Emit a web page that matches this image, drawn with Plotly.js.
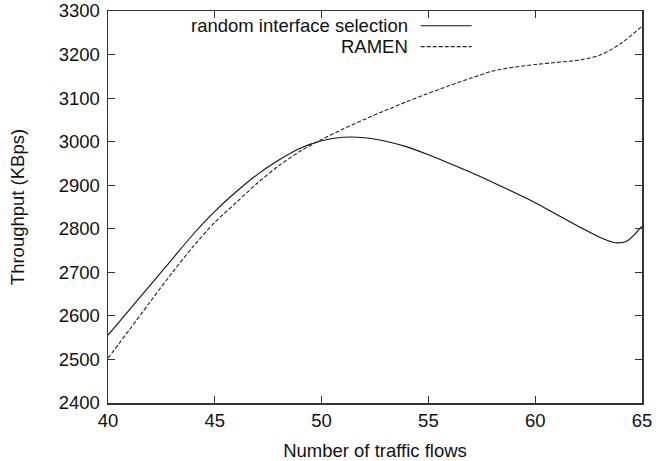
<!DOCTYPE html>
<html>
<head>
<meta charset="utf-8">
<script src="https://cdn.plot.ly/plotly-3.0.1.min.js"></script>
<style>html,body{margin:0;padding:0;background:#fff;}#chart{width:664px;height:461px;}</style>
</head>
<body>
<div id="chart"></div>
<script>
const seriesNames = ["random interface selection", "RAMEN"];
const randomX = [40,41,42,43,44,45,46,47,48,49,50,51,52,53,54,55,56,57,58,59,60,61,62,63,63.75,64.3,65];
const randomY = [2556,2614,2672,2730,2788,2840,2885,2925,2958,2985,3002,3010,3009,3001,2988,2970,2950,2929,2907,2884,2860,2833,2806,2781,2768,2772,2806];
const ramenX = [40,41,42,43,44,45,46,47,48,49,50,51,52,53,54,55,56,57,58,59,60,61,62,63,64,65];
const ramenY = [2503,2568,2634,2699,2760,2815,2860,2905,2945,2978,3005,3029,3051,3072,3092,3111,3129,3146,3162,3171,3177,3182,3187,3198,3225,3265];
const xTicks = [40,45,50,55,60,65];
const yTicks = [2400,2500,2600,2700,2800,2900,3000,3100,3200,3300];
const xTitle = "Number of traffic flows";
const yTitle = "Throughput (KBps)";

const font = {family: "Liberation Sans, Arial, sans-serif", size: 18.5, color: "#111"};
const traces = [
  {x: randomX, y: randomY, mode: "lines", name: seriesNames[0], line: {color: "#111", width: 1.1, shape: "spline", smoothing: 0.8}},
  {x: ramenX, y: ramenY, mode: "lines", name: seriesNames[1], line: {color: "#222", width: 1.1, dash: "4px,2px", shape: "spline", smoothing: 0.8}}
];
const legendY = [0.9625, 0.909];
const annotations = seriesNames.map((n, i) => ({
  xref: "paper", yref: "paper", x: 0.5637, y: legendY[i], xanchor: "right", yanchor: "middle",
  text: n, showarrow: false, font: font, borderpad: 0
}));
const shapes = seriesNames.map((n, i) => ({
  type: "line", xref: "paper", yref: "paper", x0: 0.5856, x1: 0.681, y0: legendY[i], y1: legendY[i],
  line: {color: i === 0 ? "#111" : "#222", width: 1.1, dash: i === 0 ? "solid" : "4px,2px"}
}));
const axisCommon = {
  showline: true, linecolor: "#333", linewidth: 1.5, mirror: "ticks",
  ticks: "inside", ticklen: 7, tickcolor: "#333", tickwidth: 1.2,
  showgrid: false, zeroline: false, tickfont: font
};
const layout = {
  width: 664, height: 461,
  margin: {l: 108, r: 22, t: 11, b: 58},
  paper_bgcolor: "#fff", plot_bgcolor: "#fff",
  showlegend: false,
  xaxis: Object.assign({}, axisCommon, {range: [40, 65], tickvals: xTicks, ticktext: xTicks.map(String),
    title: {text: xTitle, font: font, standoff: 15}}),
  yaxis: Object.assign({}, axisCommon, {range: [2400, 3300], tickvals: yTicks, ticktext: yTicks.map(String),
    title: {text: yTitle, font: font, standoff: 29}, ticklabelstandoff: 3}),
  annotations: annotations,
  shapes: shapes
};
Plotly.newPlot("chart", traces, layout, {staticPlot: true, displayModeBar: false});
</script>
</body>
</html>
